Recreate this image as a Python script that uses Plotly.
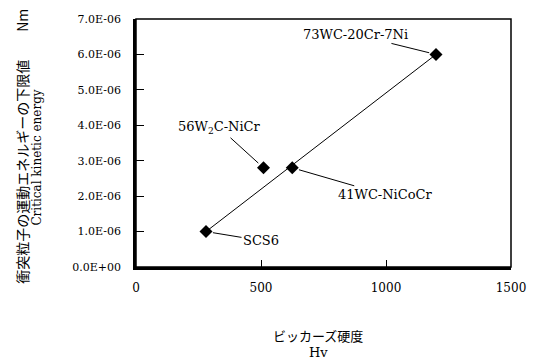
import plotly.graph_objects as go

# Coating data: Vickers hardness vs. critical kinetic energy of impacting particles
materials = ["SCS6", "56W<sub>2</sub>C-NiCr", "41WC-NiCoCr", "73WC-20Cr-7Ni"]
hardness_hv = [280, 510, 625, 1200]
critical_energy_nm = [1.0e-6, 2.8e-6, 2.8e-6, 6.0e-6]

x_ticks = [0, 500, 1000, 1500]
y_ticks = [i * 1e-6 for i in range(8)]
y_tick_text = [f"{v:.1E}" for v in y_ticks]

# Label offsets (pixels) for each material's leader line
label_offsets = {
    "SCS6": (55, 9),
    "56W<sub>2</sub>C-NiCr": (-44, -40),
    "41WC-NiCoCr": (93, 27),
    "73WC-20Cr-7Ni": (-81, -20),
}

SERIF = "DejaVu Serif"
CJK = "Noto Sans CJK JP"

fig = go.Figure()

# Trend line between the softest and hardest coatings
lo = hardness_hv.index(min(hardness_hv))
hi = hardness_hv.index(max(hardness_hv))
fig.add_trace(go.Scatter(
    x=[hardness_hv[lo], hardness_hv[hi]],
    y=[critical_energy_nm[lo], critical_energy_nm[hi]],
    mode="lines",
    line=dict(color="black", width=1),
    hoverinfo="skip",
    showlegend=False,
))

fig.add_trace(go.Scatter(
    x=hardness_hv,
    y=critical_energy_nm,
    mode="markers",
    marker=dict(symbol="diamond", size=10, color="black"),
    text=materials,
    showlegend=False,
))

for name, hx, ey in zip(materials, hardness_hv, critical_energy_nm):
    ax, ay = label_offsets[name]
    fig.add_annotation(
        x=hx, y=ey, xref="x", yref="y",
        text=name,
        showarrow=True, arrowhead=0, arrowwidth=1, arrowcolor="black",
        ax=ax, ay=ay, standoff=7,
        font=dict(family=SERIF, size=13, color="black"),
    )

# Axis titles
fig.add_annotation(
    xref="paper", yref="paper", x=(321 - 136) / 381, y=-(335 - 267) / 248,
    text="ビッカーズ硬度", showarrow=False,
    font=dict(family=CJK, size=13, color="black"),
    xanchor="center", yanchor="middle",
)
fig.add_annotation(
    xref="paper", yref="paper", x=(321 - 136) / 381, y=-(352 - 267) / 248,
    text="Hv", showarrow=False,
    font=dict(family=SERIF, size=13, color="black"),
    xanchor="center", yanchor="middle",
)
fig.add_annotation(
    xref="paper", yref="paper", x=-(136 - 20) / 381, y=(267 - 146) / 248,
    text="衝突粒子の運動エネルギーの下限値　　Nm", textangle=-90, showarrow=False,
    font=dict(family=CJK, size=14, color="black"),
    xanchor="center", yanchor="middle",
)
fig.add_annotation(
    xref="paper", yref="paper", x=-(136 - 35) / 381, y=(267 - 158) / 248,
    text="Critical kinetic energy", textangle=-90, showarrow=False,
    font=dict(family=SERIF, size=12, color="black"),
    xanchor="center", yanchor="middle",
)

# Thin frame around the plot area
fig.add_shape(type="rect", xref="paper", yref="paper", x0=0, y0=0, x1=1, y1=1,
              line=dict(color="black", width=1.5), layer="above")

fig.update_xaxes(
    range=[0, 1500], tickvals=x_ticks, ticktext=[str(v) for v in x_ticks],
    ticks="inside", ticklen=7, tickcolor="black", tickwidth=1,
    showline=True, linecolor="black", linewidth=2.5,
    showgrid=False, zeroline=False, ticklabelstandoff=8,
    tickfont=dict(family=SERIF, size=12, color="black"),
)
fig.update_yaxes(
    range=[0, 7e-6], tickvals=y_ticks, ticktext=y_tick_text,
    ticks="inside", ticklen=8, tickcolor="black", tickwidth=1,
    showline=True, linecolor="black", linewidth=2.5,
    showgrid=False, zeroline=False, ticklabelstandoff=10,
    tickfont=dict(family=SERIF, size=11, color="black"),
)

fig.update_layout(
    width=538, height=362,
    margin=dict(l=136, r=22, t=19, b=95),
    paper_bgcolor="white", plot_bgcolor="white",
    font=dict(family=SERIF, color="black"),
    showlegend=False,
)

fig.write_html("out.html")
